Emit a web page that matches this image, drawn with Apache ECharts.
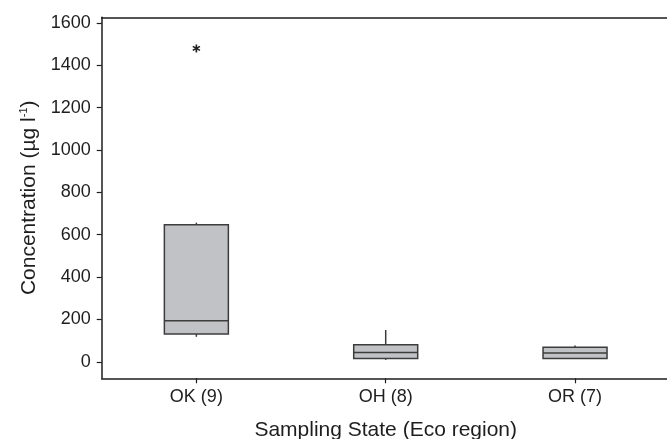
<!DOCTYPE html>
<html>
<head>
<meta charset="utf-8">
<script src="https://cdn.jsdelivr.net/npm/echarts@6/dist/echarts.min.js"></script>
<style>
  html, body { margin: 0; padding: 0; background: #fff; }
  #chart { width: 667px; height: 439px; }
</style>
</head>
<body>
<div id="chart"></div>
<script>
// Sampling states with sample counts
const categories = ['OK (9)', 'OH (8)', 'OR (7)'];
// Box statistics per state: [lower whisker, Q1, median, Q3, upper whisker] (µg l-1)
const whiskerLow = [118, 9, 15];
const quartile1 = [131, 16, 16];
const medians = [194, 44, 42];
const quartile3 = [647, 80, 69];
const whiskerHigh = [657, 150, 77];
// Outliers: [category index, concentration]
const outliers = [[0, 1480]];
// Y tick labels
const yTicks = [0, 200, 400, 600, 800, 1000, 1200, 1400, 1600];

const FONT = '"Liberation Sans", Arial, Helvetica, sans-serif';
const INK = '#1e1e1e';
const BOX_LINE = '#3c3c3c';

const boxData = categories.map((c, i) => [i, whiskerLow[i], quartile1[i], medians[i], quartile3[i], whiskerHigh[i]]);

// Six-armed asterisk outline built from three rotated bars
function asteriskPath() {
  const hw = 0.2, len = 1;
  let d = '';
  [0, 60, 120].forEach(deg => {
    const a = deg * Math.PI / 180;
    const ux = Math.sin(a), uy = -Math.cos(a);
    const px = -uy * hw, py = ux * hw;
    const pts = [
      [ux * len + px, uy * len + py],
      [ux * len - px, uy * len - py],
      [-ux * len - px, -uy * len - py],
      [-ux * len + px, -uy * len + py]
    ];
    d += 'M' + pts.map(p => p[0].toFixed(3) + ' ' + p[1].toFixed(3)).join('L') + 'Z';
  });
  return 'path://' + d;
}

const chart = echarts.init(document.getElementById('chart'), null, { renderer: 'canvas' });

chart.setOption({
  animation: false,
  backgroundColor: '#ffffff',
  textStyle: { fontFamily: FONT },
  grid: { left: 101.7, right: -2.7, top: 17.3, bottom: 60.7, outerBoundsMode: 'none', containLabel: false },
  xAxis: [{
    type: 'category',
    data: categories,
    boundaryGap: true,
    name: 'Sampling State (Eco region)',
    nameLocation: 'middle',
    nameGap: 41,
    nameTextStyle: { fontSize: 21, color: INK, fontFamily: FONT },
    axisLine: { show: true, onZero: false, lineStyle: { color: INK, width: 1.5 } },
    axisTick: { show: true, alignWithLabel: true, length: 5, lineStyle: { color: INK, width: 1.2 } },
    axisLabel: { fontSize: 18, color: INK, margin: 10, fontFamily: FONT },
    splitLine: { show: false }
  }, {
    type: 'category',
    data: categories,
    position: 'top',
    axisLine: { show: true, onZero: false, lineStyle: { color: INK, width: 1.5 } },
    axisTick: { show: false },
    axisLabel: { show: false },
    splitLine: { show: false }
  }],
  yAxis: {
    type: 'value',
    min: -78,
    max: 1627,
    name: 'Concentration (µg l{sup|-1})',
    nameLocation: 'middle',
    nameGap: 46,
    nameTextStyle: {
      fontSize: 21, color: INK, fontFamily: FONT,
      rich: {
        sup: { fontSize: 11, color: INK, fontFamily: FONT, verticalAlign: 'top', padding: [0, 0, 9, 0] }
      }
    },
    axisLine: { show: true, onZero: false, lineStyle: { color: INK, width: 1.5 } },
    axisTick: { show: true, length: 5, customValues: yTicks, lineStyle: { color: INK, width: 1.2 } },
    axisLabel: {
      fontSize: 18, color: INK, margin: 11, customValues: yTicks, fontFamily: FONT,
      formatter: function (v) { return String(v); }
    },
    splitLine: { show: false }
  },
  series: [{
    type: 'custom',
    data: boxData,
    encode: { x: 0, y: [1, 2, 3, 4, 5] },
    renderItem: function (params, api) {
      const idx = api.value(0);
      const pLow = api.coord([idx, api.value(1)]);
      const pQ1 = api.coord([idx, api.value(2)]);
      const pMed = api.coord([idx, api.value(3)]);
      const pQ3 = api.coord([idx, api.value(4)]);
      const pHigh = api.coord([idx, api.value(5)]);
      const half = api.size([1, 0])[0] * 0.338 / 2;
      const cx = pMed[0];
      const lineStyle = { stroke: BOX_LINE, lineWidth: 1.5, fill: null };
      return {
        type: 'group',
        children: [
          { type: 'line', shape: { x1: cx, y1: pQ3[1], x2: cx, y2: pHigh[1] }, style: lineStyle },
          { type: 'line', shape: { x1: cx, y1: pQ1[1], x2: cx, y2: pLow[1] }, style: lineStyle },
          {
            type: 'rect',
            shape: { x: cx - half, y: pQ3[1], width: half * 2, height: pQ1[1] - pQ3[1] },
            style: { fill: '#c1c2c6', stroke: BOX_LINE, lineWidth: 1.5 }
          },
          { type: 'line', shape: { x1: cx - half, y1: pMed[1], x2: cx + half, y2: pMed[1] }, style: lineStyle }
        ]
      };
    }
  }, {
    type: 'scatter',
    data: outliers,
    symbol: asteriskPath(),
    symbolSize: 8,
    itemStyle: { color: '#222222', opacity: 1 }
  }]
});
</script>
</body>
</html>
